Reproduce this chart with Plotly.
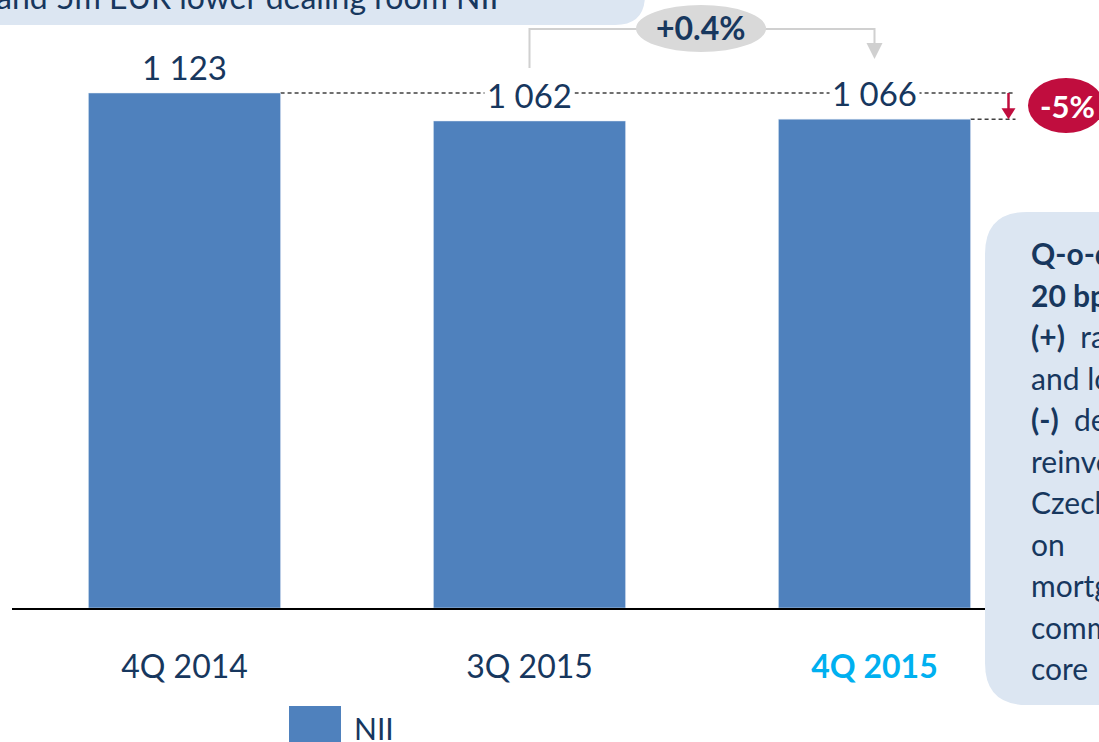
import plotly.graph_objects as go

# data
quarters = ["4Q 2014", "3Q 2015", "4Q 2015"]
nii = [1123, 1062, 1066]
value_labels = ["1 123", "1 062", "1 066"]
qoq_label = "+0.4%"
yoy_label = "-5%"
header_text = "and 5m EUR lower dealing room NII"
side_lines = [
    "<b>Q-o-q NIM down</b>",
    "<b>20 bps</b>",
    "<b>(+)</b>  rates and",
    "and loans",
    "<b>(-)</b>  deposit",
    "reinvestment",
    "Czech",
    "on",
    "mortgages",
    "commercial",
    "core",
]

W, H = 1099, 742
L, R, T, B = 12, 52, 0, 134
PW, PH = W - L - R, H - T - B

NAVY = "#17375E"
BAR = "#4F81BD"
BOX = "#DCE6F2"
RED = "#C00D3E"
GREY = "#D9D9D9"
FONT = "Lato"


def fx(p):
    return (p - L) / PW


def fy(p):
    return (T + PH - p) / PH


def rrect(x0, y0, x1, y1, r):
    # rounded rectangle in pixels -> path in paper coords
    pts = [
        ("M", x0 + r, y0), ("L", x1 - r, y0), ("Q", x1, y0, x1, y0 + r),
        ("L", x1, y1 - r), ("Q", x1, y1, x1 - r, y1), ("L", x0 + r, y1),
        ("Q", x0, y1, x0, y1 - r), ("L", x0, y0 + r), ("Q", x0, y0, x0 + r, y0),
    ]
    out = []
    for p in pts:
        cmd, coords = p[0], p[1:]
        s = " ".join(f"{fx(coords[i]):.5f},{fy(coords[i + 1]):.5f}" for i in range(0, len(coords), 2))
        out.append(cmd + s)
    return " ".join(out) + " Z"


def note(px, py, text, size, color=NAVY, xanchor="center", bold=False):
    return dict(x=fx(px), y=fy(py), xref="paper", yref="paper",
                text=f"<b>{text}</b>" if bold else text,
                showarrow=False, xanchor=xanchor, yanchor="middle",
                font=dict(family=FONT, size=size, color=color))


cats = list(range(len(quarters)))
bargap = 0.443
half = (1 - bargap) / 2

fig = go.Figure()
fig.add_trace(go.Bar(x=cats, y=nii, marker_color=BAR, showlegend=False, hoverinfo="skip"))

tick_text = [
    f"<span style='color:{NAVY}'>{quarters[0]}</span>",
    f"<span style='color:{NAVY}'>{quarters[1]}</span>",
    f"<b><span style='color:#00B0F0'>{quarters[2]}</span></b>",
]

shapes = []
annotations = []

# dashed reference lines
x_end = 2 + (1015 - 874) / 345
dash_line = dict(color="#404040", width=1.5, dash="4px,3px")
shapes.append(dict(type="line", xref="x", yref="y", x0=0 + half, x1=x_end, y0=nii[0], y1=nii[0],
                   line=dash_line, layer="below"))
shapes.append(dict(type="line", xref="x", yref="y", x0=2 + half, x1=x_end, y0=nii[2], y1=nii[2],
                   line=dash_line, layer="below"))

# value labels
for i, (v, t) in enumerate(zip(nii, value_labels)):
    annotations.append(dict(x=i, y=v, xref="x", yref="y", text=t, showarrow=False, yshift=26,
                            xanchor="center", yanchor="middle", bgcolor="white", borderpad=2,
                            font=dict(family=FONT, size=33, color=NAVY)))

# grey q-o-q connector
shapes.append(dict(type="path", xref="x", yref="paper",
                   path=f"M 1,{fy(68):.5f} L 1,{fy(29):.5f} L 2,{fy(29):.5f} L 2,{fy(45):.5f}",
                   line=dict(color="#D0D0D0", width=2)))
ax_l, ax_r = 2 - 8 / 345, 2 + 8 / 345
shapes.append(dict(type="path", xref="x", yref="paper",
                   path=f"M {ax_l:.5f},{fy(43):.5f} L {ax_r:.5f},{fy(43):.5f} L 2,{fy(59):.5f} Z",
                   fillcolor="#D0D0D0", line=dict(width=0)))
shapes.append(dict(type="circle", xref="paper", yref="paper",
                   x0=fx(636), x1=fx(766), y0=fy(5), y1=fy(52),
                   fillcolor=GREY, line=dict(width=0)))
annotations.append(note(701, 28, qoq_label, 32, bold=True))

# red y-o-y arrow + badge
xa = 2 + (1008 - 874) / 345
shapes.append(dict(type="line", xref="x", yref="y", x0=xa, x1=xa, y0=nii[0], y1=nii[2] + 20,
                   line=dict(color=RED, width=2.5)))
shapes.append(dict(type="path", xref="x", yref="y",
                   path=f"M {xa - 7 / 345:.5f},{nii[2] + 24} L {xa + 7 / 345:.5f},{nii[2] + 24} L {xa:.5f},{nii[2]} Z",
                   fillcolor=RED, line=dict(width=0)))
shapes.append(dict(type="circle", xref="paper", yref="paper",
                   x0=fx(1028), x1=fx(1104), y0=fy(78), y1=fy(133),
                   fillcolor=RED, line=dict(width=0)))
annotations.append(note(1067, 106, yoy_label, 31, color="white", bold=True))

# header box top-left
shapes.append(dict(type="path", xref="paper", yref="paper", path=rrect(-40, -60, 645, 25, 30),
                   fillcolor=BOX, line=dict(width=0)))
annotations.append(note(-6, -4, header_text, 32, xanchor="left"))

# side commentary box
shapes.append(dict(type="path", xref="paper", yref="paper", path=rrect(985, 212, 1160, 705, 42),
                   fillcolor=BOX, line=dict(width=0)))
for k, line in enumerate(side_lines):
    annotations.append(note(1029, 253 + k * 41.5, line, 30, xanchor="left"))

# legend
shapes.append(dict(type="rect", xref="paper", yref="paper", x0=fx(289), x1=fx(341), y0=fy(706), y1=fy(760),
                   fillcolor=BAR, line=dict(width=0)))
annotations.append(note(352, 728, "NII", 30, xanchor="left"))

fig.update_layout(
    width=W, height=H,
    margin=dict(l=L, r=R, t=T, b=B),
    plot_bgcolor="white", paper_bgcolor="white",
    bargap=bargap,
    shapes=shapes,
    annotations=annotations,
    hovermode=False,
    font=dict(family=FONT, color=NAVY),
)
fig.update_xaxes(tickvals=cats, ticktext=tick_text, range=[-0.5, 2.5],
                 showline=True, linecolor="black", linewidth=2, showgrid=False, zeroline=False,
                 ticks="", ticklabelstandoff=30, tickfont=dict(family=FONT, size=32, color=NAVY))
fig.update_yaxes(range=[0, 1123 * PH / (608 - 93)], visible=False, showgrid=False, zeroline=False)

# page body has a default margin; drop it so the figure sits at the window corner
fig.write_html("out.html", config={"displayModeBar": False},
               post_script="document.body.style.margin='0px';")
